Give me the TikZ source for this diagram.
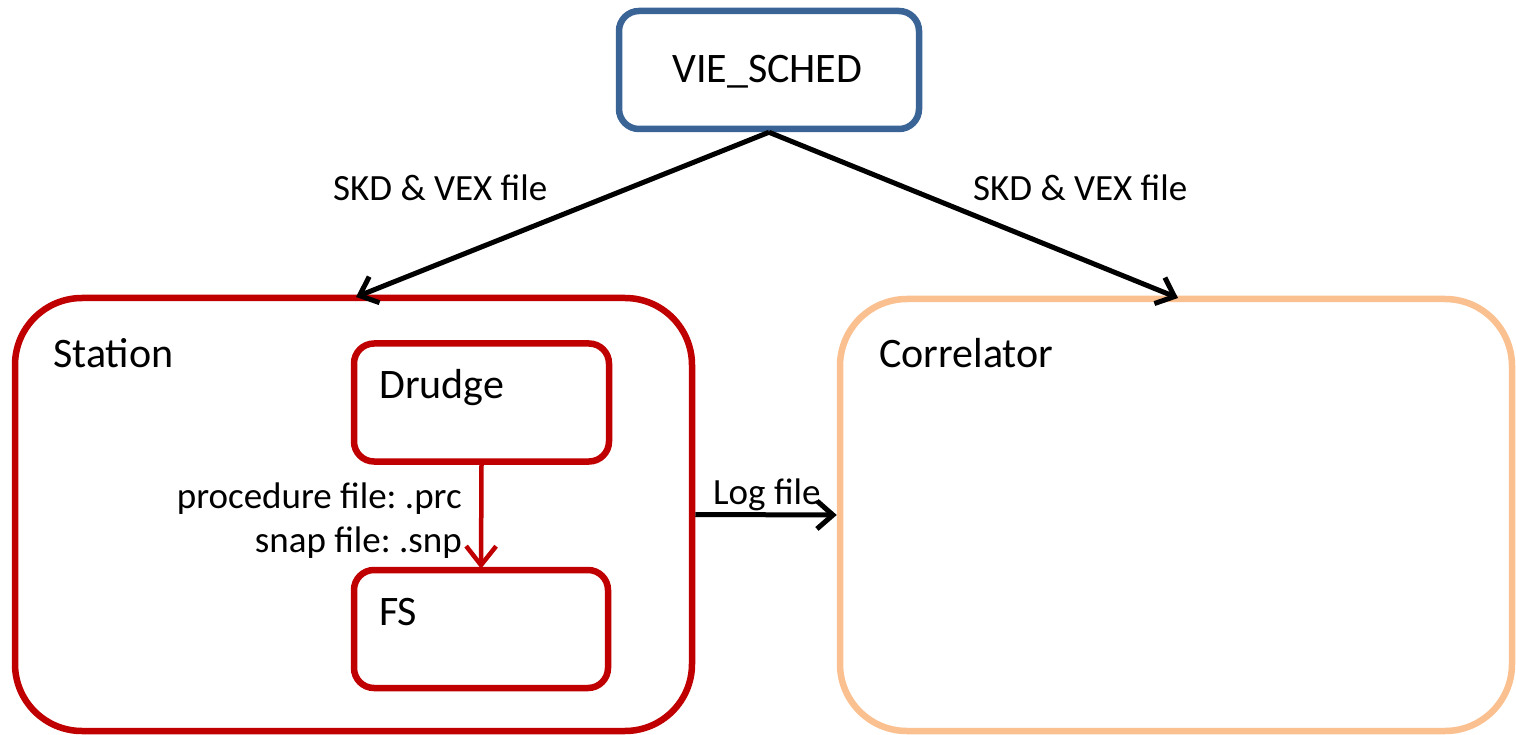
\documentclass[tikz,border=0pt]{standalone}
\usepackage{fontspec}
\setmainfont{Carlito}
\frenchspacing
\usetikzlibrary{arrows.meta}
\definecolor{vblue}{HTML}{3A6496}
\definecolor{sred}{HTML}{C00000}
\definecolor{corange}{HTML}{FAC090}
\tikzset{
  box/.style={draw, line width=6.5pt, rounded corners=#1, inner sep=0pt},
  bigtxt/.style={inner sep=0pt, font=\fontsize{42}{50}\selectfont},
  smalltxt/.style={inner sep=0pt, font=\fontsize{37}{44}\selectfont},
  arr/.style={draw, line width=5pt, -{Straight Barb[length=16pt,width=28pt,line width=5pt]}},
}
\begin{document}
\begin{tikzpicture}[x=1pt,y=-1pt]
\useasboundingbox (0,0) rectangle (1516,735);
% boxes
\node[box=20pt, draw=vblue, minimum width=300pt, minimum height=118pt] (vie) at (769,70) {};
\node[box=67pt, draw=sred, minimum width=677pt, minimum height=433pt] (station) at (353.5,514.5) {};
\node[box=67pt, draw=corange, minimum width=672pt, minimum height=432pt] (corr) at (1176,515) {};
\node[box=20pt, draw=sred, minimum width=255pt, minimum height=118pt] (drudge) at (481.5,402.5) {};
\node[box=20pt, draw=sred, minimum width=254pt, minimum height=118pt] (fs) at (481,629) {};
% titles
\node[bigtxt, anchor=base west] (tvie) at (672,83) {VIE\_SCHED};
\node[bigtxt, anchor=base west] (tstation) at (53,368) {Station};
\node[bigtxt, anchor=base west] (tcorr) at (879,368) {Correlator};
\node[bigtxt, anchor=base west] (tdrudge) at (379,399) {Drudge};
\node[bigtxt, anchor=base west] (tfs) at (379,625) {FS};
% connectors
\coordinate (sin) at (356,297);
\coordinate (cin) at (1178,298);
\draw[arr] (vie.south) -- (sin);
\draw[arr] (vie.south) -- (cin);
\draw[arr] (station.east) -- (corr.west);
\draw[arr, draw=sred, line width=4.5pt, -{Straight Barb[length=19pt,width=30pt,line width=4.5pt]}] (drudge.south) -- ([yshift=-2pt]fs.north);
% labels
\node[smalltxt, anchor=base west] (l1) at (333,201) {SKD \& VEX file};
\node[smalltxt, anchor=base west] (l2) at (973,201) {SKD \& VEX file};
\node[smalltxt, anchor=base west] (l3) at (713,504) {Log file};
\node[smalltxt, anchor=base east] (l4) at (462,508) {procedure file: .prc};
\node[smalltxt, anchor=base east] (l5) at (462,552) {snap file: .snp};
\end{tikzpicture}
\end{document}
